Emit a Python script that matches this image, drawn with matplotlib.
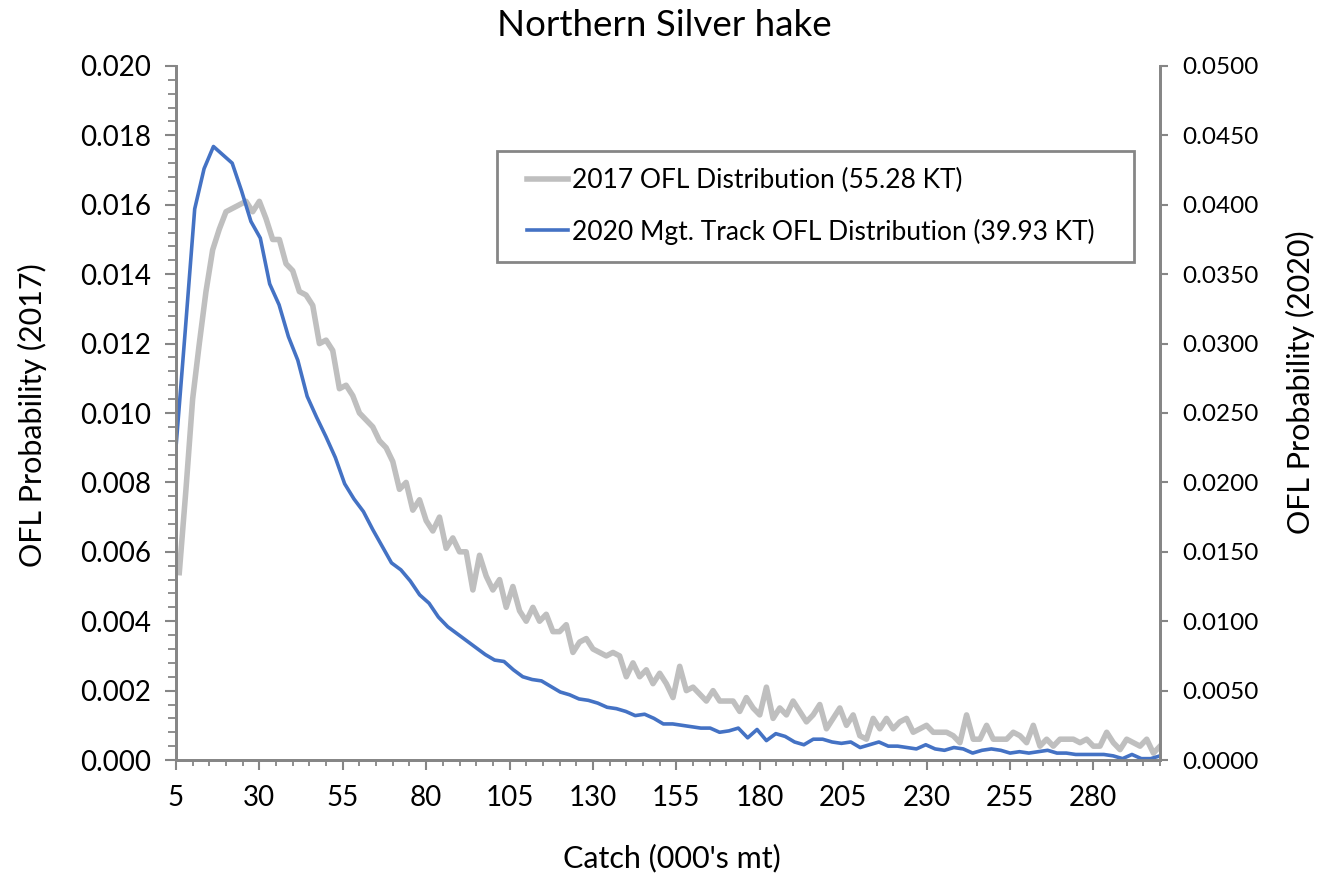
"""
Northern Silver hake - OFL probability distributions (2017 vs 2020 mgt. track).
"""

import matplotlib
matplotlib.use("Agg")
import matplotlib.pyplot as plt
from matplotlib.patches import Rectangle
from matplotlib.ticker import MultipleLocator, FixedLocator, FormatStrFormatter
import numpy as np

plt.rcParams["font.family"] = ["Lato", "DejaVu Sans"]

# ── data ──────────────────────────────────────────────────────────────────────
# 2017 OFL distribution, left axis, catch every 2 kt from 6 to 300
catch_2017 = np.arange(6, 301, 2)
prob_2017 = [
    0.0054, 0.0078, 0.0104, 0.0120, 0.0135, 0.0147, 0.0153, 0.0158, 0.0159, 0.0160,
    0.0161, 0.0158, 0.0161, 0.0156, 0.0150, 0.0150, 0.0143, 0.0141, 0.0135, 0.0134,
    0.0131, 0.0120, 0.0121, 0.0118, 0.0107, 0.0108, 0.0105, 0.0100, 0.0098, 0.0096,
    0.0092, 0.0090, 0.0086, 0.0078, 0.0080, 0.0072, 0.0075, 0.0069, 0.0066, 0.0070,
    0.0061, 0.0064, 0.0060, 0.0060, 0.0049, 0.0059, 0.0053, 0.0049, 0.0052, 0.0044,
    0.0050, 0.0043, 0.0040, 0.0044, 0.0040, 0.0042, 0.0037, 0.0037, 0.0039, 0.0031,
    0.0034, 0.0035, 0.0032, 0.0031, 0.0030, 0.0031, 0.0030, 0.0024, 0.0028, 0.0024,
    0.0026, 0.0022, 0.0025, 0.0022, 0.0018, 0.0027, 0.0020, 0.0021, 0.0019, 0.0017,
    0.0020, 0.0017, 0.0017, 0.0017, 0.0014, 0.0018, 0.0015, 0.0013, 0.0021, 0.0012,
    0.0015, 0.0013, 0.0017, 0.0014, 0.0011, 0.0013, 0.0016, 0.0009, 0.0012, 0.0015,
    0.0010, 0.0013, 0.0007, 0.0006, 0.0012, 0.0009, 0.0012, 0.0009, 0.0011, 0.0012,
    0.0008, 0.0009, 0.0010, 0.0008, 0.0008, 0.0008, 0.0007, 0.0005, 0.0013, 0.0006,
    0.0006, 0.0010, 0.0006, 0.0006, 0.0006, 0.0008, 0.0007, 0.0005, 0.0010, 0.0004,
    0.0006, 0.0004, 0.0006, 0.0006, 0.0006, 0.0005, 0.0006, 0.0004, 0.0004, 0.0008,
    0.0005, 0.0003, 0.0006, 0.0005, 0.0004, 0.0006, 0.0002, 0.0004,
]

# 2020 mgt. track OFL distribution, right axis, 106 evenly spaced catches 5..300
catch_2020 = np.linspace(5, 300, 106)
prob_2020 = [
    0.0225, 0.0310, 0.0397, 0.0426, 0.0442, 0.0436, 0.0430, 0.0410, 0.0388, 0.0376,
    0.0343, 0.0328, 0.0305, 0.0288, 0.0262, 0.0247, 0.0233, 0.0218, 0.0199, 0.0188,
    0.0179, 0.0166, 0.0154, 0.0142, 0.0137, 0.0129, 0.0119, 0.0113, 0.0103, 0.0096,
    0.0091, 0.0086, 0.0081, 0.0076, 0.0072, 0.0071, 0.0065, 0.0060, 0.0058, 0.0057,
    0.0053, 0.0049, 0.0047, 0.0044, 0.0043, 0.0041, 0.0038, 0.0037, 0.0035, 0.0032,
    0.0033, 0.0030, 0.0026, 0.0026, 0.0025, 0.0024, 0.0023, 0.0023, 0.0020, 0.0021,
    0.0023, 0.0016, 0.0022, 0.0014, 0.0019, 0.0017, 0.0013, 0.0011, 0.0015, 0.0015,
    0.0013, 0.0012, 0.0013, 0.0009, 0.0011, 0.0013, 0.0010, 0.0010, 0.0009, 0.0008,
    0.0011, 0.0008, 0.0007, 0.0009, 0.0008, 0.0005, 0.0007, 0.0008, 0.0007, 0.0005,
    0.0006, 0.0005, 0.0006, 0.0007, 0.0005, 0.0005, 0.0004, 0.0004, 0.0004, 0.0004,
    0.0003, 0.0001, 0.0004, 0.0001, 0.0001, 0.0003,
]

label_2017 = "2017 OFL Distribution (55.28 KT)"
label_2020 = "2020 Mgt. Track OFL Distribution (39.93 KT)"
x_ticks = [5, 30, 55, 80, 105, 130, 155, 180, 205, 230, 255, 280]

GRAY = "#BFBFBF"
BLUE = "#4472C4"
AXC = "#868686"

# ── figure ────────────────────────────────────────────────────────────────────
fig = plt.figure(figsize=(13.19, 8.75), dpi=100)
ax = fig.add_axes([0.1334, 0.1314, 0.7461, 0.7932])
ax2 = ax.twinx()

line17, = ax.plot(catch_2017, prob_2017, color=GRAY, lw=4.0,
                  solid_joinstyle="round")
line20, = ax2.plot(catch_2020, prob_2020, color=BLUE, lw=2.6,
                   solid_joinstyle="round")

ax.set_xlim(5, 300)
ax.set_ylim(0, 0.020)
ax2.set_ylim(0, 0.050)

# x axis
ax.xaxis.set_major_locator(FixedLocator(x_ticks))
ax.xaxis.set_minor_locator(MultipleLocator(5))
ax.tick_params(axis="x", which="major", length=7.2, width=1.5, color=AXC,
               labelsize=20, pad=11)
ax.tick_params(axis="x", which="minor", length=4.3, width=1.3, color=AXC)

# left y axis
ax.yaxis.set_major_locator(MultipleLocator(0.002))
ax.yaxis.set_minor_locator(MultipleLocator(0.0004))
ax.yaxis.set_major_formatter(FormatStrFormatter("%.3f"))
ax.tick_params(axis="y", which="major", length=8, width=1.5, color=AXC,
               labelsize=20, pad=10)
ax.tick_params(axis="y", which="minor", length=5.5, width=1.3, color=AXC)

# right y axis
ax2.yaxis.set_major_locator(MultipleLocator(0.005))
ax2.yaxis.set_major_formatter(FormatStrFormatter("%.4f"))
ax2.tick_params(axis="y", which="major", length=5.8, width=1.5, color=AXC,
                labelsize=17.5, pad=10)

for a in (ax, ax2):
    a.spines["top"].set_visible(False)
    for s in ("left", "right", "bottom"):
        a.spines[s].set_color(AXC)
        a.spines[s].set_linewidth(2)

ax.set_xlabel("Catch (000's mt)", fontsize=22)
ax.xaxis.set_label_coords(0.504, -0.1412)
ax.xaxis.label.set_va("center")
ax.set_ylabel("OFL Probability (2017)", fontsize=22)
ax.yaxis.set_label_coords(-0.1463, 0.497)
ax.yaxis.label.set_va("center")
ax2.set_ylabel("OFL Probability (2020)", fontsize=22)
ax2.yaxis.set_label_coords(1.1423, 0.544)
ax2.yaxis.label.set_va("center")

fig.text(0.504, 0.971, "Northern Silver hake", ha="center", va="center",
         fontsize=26.5)

# legend: frame drawn separately so the handle inset matches the reference
fig.add_artist(Rectangle((497 / 1319, 1 - 262 / 875), 637 / 1319, 111 / 875,
                         transform=fig.transFigure, facecolor="white",
                         edgecolor=AXC, linewidth=2, zorder=5))
leg = fig.legend([line17, line20], [label_2017, label_2020], loc="center left",
                 bbox_to_anchor=(527 / 1319, 1 - 206.5 / 875),
                 fontsize=19, frameon=False,
                 handlelength=1.55, handletextpad=0.15, labelspacing=0.95,
                 borderpad=0, borderaxespad=0)
leg.set_zorder(6)

fig.savefig("out.png", dpi=100, facecolor="white")
plt.close()
